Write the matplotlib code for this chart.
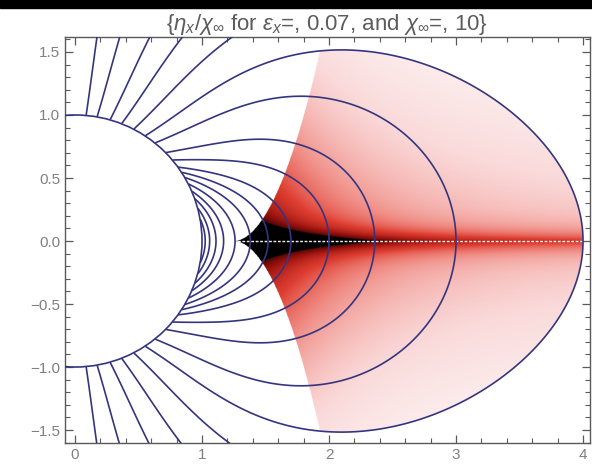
import numpy as np
import matplotlib.pyplot as plt
from matplotlib.colors import LinearSegmentedColormap
from matplotlib.patches import Circle, Rectangle
from matplotlib.ticker import MultipleLocator

plt.rcParams['mathtext.fontset'] = 'custom'
plt.rcParams['mathtext.rm'] = 'Liberation Sans'
plt.rcParams['mathtext.it'] = 'Liberation Sans:italic'

eps_x = 0.07
chi_inf = 10

# contours that leave the frame: angle (deg) where they start on the body
open_angles = [62.5, 68.5, 74, 80, 85]
# closed contours: where they cross the axis behind the body
closed_x = [4.0, 3.0, 2.36, 2.0, 1.7, 1.52, 1.38, 1.26, 1.17, 1.11, 1.06, 1.025]

# wake domain: apex on the axis and edge shape x = apex + k*|y|**p
wake_apex = 1.24
wake_k = 0.56
wake_p = 0.5

x_ticks = [0, 1, 2, 3, 4]
y_ticks = [-1.5, -1.0, -0.5, 0.0, 0.5, 1.0, 1.5]

line_col = '#35357f'
frame_col = '#5a5a5a'
text_col = '#808080'


def growth(r):
    s = np.clip(r - 1.0, 0, None)
    near = 0.2 * (1.0 - np.exp(-s / 0.3))
    far = 0.72 * (1.0 - np.exp(-(s / 2.237) ** 2.2))
    return 1.0 + near + far


def coord(x, y):
    r = np.hypot(x, y)
    return x / (r * growth(r))


def wake(x, y):
    s = np.clip(x - wake_apex, 0, None)
    amp = 0.5 + 0.6 * np.exp(-s / 1.5) + 2.4 * np.exp(-s / 0.5)
    ay = np.abs(y)
    prof = 0.6 * np.exp(-ay / 0.07) + 0.4 * np.exp(-ay / 1.0)
    return amp * prof


xs = np.linspace(-0.1, 4.1, 1200)
ys = np.linspace(-1.65, 1.65, 950)
X, Y = np.meshgrid(xs, ys)
R = np.hypot(X, Y)
F = coord(X, Y)
F = np.ma.masked_where(R < 1.0, F)

levels = [np.cos(np.radians(a)) for a in open_angles]
levels += [float(coord(xc, 0.0)) for xc in closed_x]
levels = sorted(levels)

outer_level = float(coord(max(closed_x), 0.0))
inside = (F.filled(-1) >= outer_level) & (X >= wake_apex + wake_k * np.abs(Y) ** wake_p)
V = np.ma.masked_where(~inside, wake(X, Y))

cmap = LinearSegmentedColormap.from_list('wake', [
    (0.0, (1.0, 1.0, 1.0)),
    (0.15, (0.98, 0.85, 0.85)),
    (0.35, (0.94, 0.55, 0.52)),
    (0.55, (0.87, 0.24, 0.19)),
    (0.8, (0.62, 0.08, 0.06)),
    (1.0, (0.32, 0.02, 0.02)),
])
cmap.set_over('black')
cmap.set_bad((1, 1, 1, 0))

fig = plt.figure(figsize=(5.92, 4.73), dpi=100)
fig.patches.append(Rectangle((0, 1 - 8 / 473), 1, 8 / 473, transform=fig.transFigure,
                             color='black', zorder=10))
ax = fig.add_axes([65 / 592, 1 - 443 / 473, 525 / 592, 406 / 473])

ax.imshow(V, extent=[xs[0], xs[-1], ys[0], ys[-1]], origin='lower', cmap=cmap,
          vmin=0, vmax=1, interpolation='bilinear', aspect='auto', zorder=1)

# thin dotted line along the singular axis
ax.plot([wake_apex, max(closed_x)], [0, 0], color='#f2f2f2', lw=1.0, dashes=(2, 1.2), zorder=2)

ax.contour(X, Y, F, levels=levels, colors=line_col, linewidths=1.2, zorder=3)
ax.add_patch(Circle((0, 0), 1.0, fill=False, ec=line_col, lw=1.2, zorder=3))

ax.set_xlim(-0.079, 4.055)
ax.set_ylim(-1.603, 1.619)

ax.set_xticks(x_ticks)
ax.set_yticks(y_ticks)
ax.set_yticklabels(['%.1f' % v if v >= 0 else '\u2212%.1f' % -v for v in y_ticks])
ax.xaxis.set_minor_locator(MultipleLocator(0.2))
ax.yaxis.set_minor_locator(MultipleLocator(0.1))
ax.tick_params(which='both', direction='in', top=True, right=True, color=frame_col,
               labelcolor=text_col, labelsize=11)
ax.tick_params(which='major', length=6, width=0.9)
ax.tick_params(which='minor', length=3.5, width=0.8)
for lab in ax.get_xticklabels() + ax.get_yticklabels():
    lab.set_family('Liberation Sans')
for sp in ax.spines.values():
    sp.set_color(frame_col)
    sp.set_linewidth(1.0)

ax.set_title(r'{$\eta_x/\chi_\infty$ for $\epsilon_x$=, %.2f, and $\chi_\infty$=, %d}' % (eps_x, chi_inf),
             color='#5c5c5c', fontsize=16, family='Liberation Sans', pad=5)

fig.savefig('out.png', dpi=100)
